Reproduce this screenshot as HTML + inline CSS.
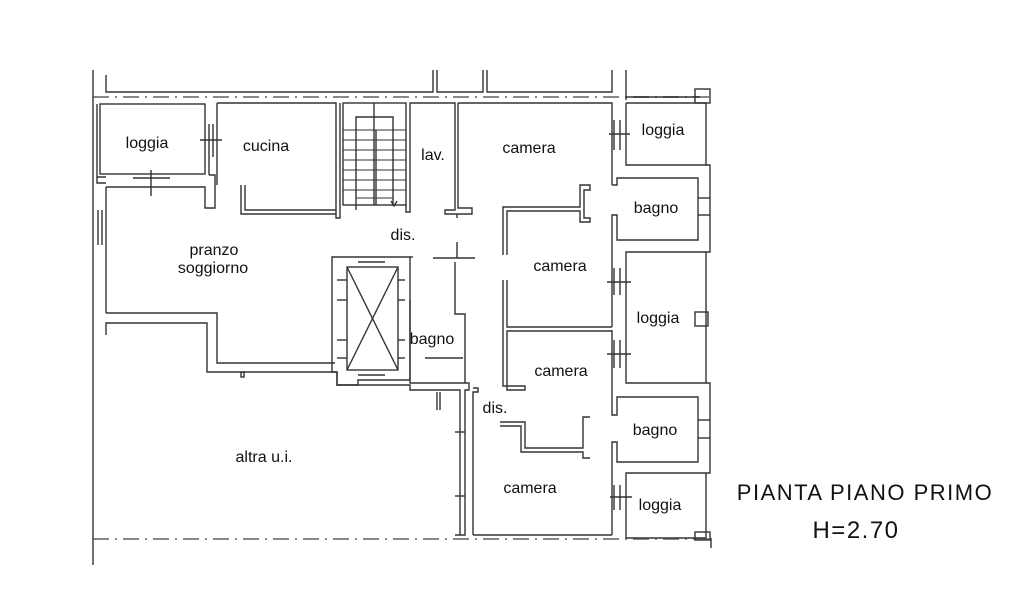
<!DOCTYPE html>
<html><head><meta charset="utf-8"><style>
html,body{margin:0;padding:0;background:#fff;}
svg{display:block;}
text{font-family:"Liberation Sans",sans-serif;fill:#111;}
</style></head><body>
<svg width="1024" height="590" viewBox="0 0 1024 590" xmlns="http://www.w3.org/2000/svg">
<g fill="none" stroke="#333" stroke-width="1.4">
<line x1="93" y1="97" x2="712" y2="97" stroke="#888" stroke-width="2" stroke-dasharray="16,6,2,6"/>
<line x1="93" y1="539" x2="712" y2="539" stroke="#888" stroke-width="2" stroke-dasharray="16,6,2,6"/>
<line x1="93" y1="70" x2="93" y2="565"/>
<polyline points="106,75 106,92 433,92 433,70"/>
<polyline points="437,70 437,92 483,92 483,70"/>
<polyline points="487,70 487,92 612,92 612,70"/>
<line x1="626" y1="70" x2="626" y2="100"/>
<polyline points="626,97 700,97"/>
<rect x="695" y="89" width="15" height="14"/>
<rect x="100" y="104" width="105" height="70"/>
<polyline points="97,104 97,177 106,177"/>
<line x1="209" y1="124" x2="209" y2="157"/><line x1="213" y1="124" x2="213" y2="157"/>
<line x1="200" y1="140" x2="222" y2="140"/>
<line x1="133" y1="178" x2="170" y2="178"/><line x1="133" y1="187" x2="170" y2="187"/>
<line x1="151" y1="170" x2="151" y2="196"/>
<polyline points="106,187 133,187"/><polyline points="170,187 205,187 205,208 215,208 215,175 209,175"/>
<polyline points="209,157 209,175"/>
<polyline points="97,177 97,183 106,183"/>
<line x1="106" y1="187" x2="106" y2="313"/>
<line x1="98" y1="210" x2="98" y2="245"/><line x1="102" y1="210" x2="102" y2="245"/>
<polyline points="106,313 217,313 217,363 335,363"/>
<polyline points="106,335 106,323 207,323 207,372 337,372 337,385 358,385"/>
<rect x="241" y="372" width="3" height="5"/>
<polyline points="217,103 336,103 336,218 340,218 340,103"/>
<polyline points="217,103 217,185"/>
<polyline points="245,185 245,210 336,210"/>
<polyline points="241,185 241,214 336,214"/>
<rect x="343" y="103" width="63" height="102"/>
<polyline points="356,210 356,117 393,117 393,205"/>
<line x1="374" y1="103" x2="374" y2="205"/><line x1="376" y1="130" x2="376" y2="205"/>
<g stroke-width="1">
<line x1="343" y1="130" x2="406" y2="130"/><line x1="343" y1="140" x2="406" y2="140"/>
<line x1="343" y1="150" x2="406" y2="150"/><line x1="343" y1="160" x2="406" y2="160"/>
<line x1="343" y1="170" x2="406" y2="170"/><line x1="343" y1="180" x2="406" y2="180"/>
<line x1="343" y1="190" x2="406" y2="190"/><line x1="356" y1="198" x2="393" y2="198"/>
</g>
<polyline points="391,201 394,206 397,201"/>
<polyline points="406,205 406,212 410,212 410,103 455,103 455,210 445,210 445,214 472,214 472,208 458,208 458,103"/>
<line x1="457" y1="214" x2="457" y2="218"/>
<polyline points="458,103 612,103 612,185"/>
<polyline points="626,103 626,165 706,165 706,103 626,103"/>
<polyline points="503,255 503,207 580,207 580,185 590,185 590,190 584,190 584,218 590,218 590,222 580,222 580,211 507,211 507,255"/>
<line x1="614" y1="120" x2="614" y2="150"/><line x1="620" y1="120" x2="620" y2="150"/>
<line x1="609" y1="134" x2="630" y2="134"/>
<polyline points="612,185 617,185 617,178 698,178 698,240 617,240 617,215 612,215 612,250"/>
<polyline points="706,165 710,165 710,252 626,252 626,383 706,383 706,252"/>
<line x1="698" y1="198" x2="710" y2="198"/><line x1="698" y1="215" x2="710" y2="215"/>
<rect x="695" y="312" width="13" height="14"/>
<polyline points="612,250 612,327"/>
<line x1="614" y1="268" x2="614" y2="295"/><line x1="620" y1="268" x2="620" y2="295"/>
<line x1="607" y1="282" x2="631" y2="282"/>
<line x1="614" y1="340" x2="614" y2="368"/><line x1="620" y1="340" x2="620" y2="368"/>
<line x1="607" y1="354" x2="631" y2="354"/>
<polyline points="612,330 612,415 617,415 617,397 698,397 698,462 617,462 617,442 612,442 612,535"/>
<polyline points="706,383 710,383 710,473 626,473 626,538 706,538 706,473"/>
<line x1="698" y1="420" x2="710" y2="420"/><line x1="698" y1="438" x2="710" y2="438"/>
<line x1="614" y1="485" x2="614" y2="510"/><line x1="620" y1="485" x2="620" y2="510"/>
<line x1="610" y1="497" x2="632" y2="497"/>
<rect x="695" y="532" width="15" height="8"/><line x1="711" y1="538" x2="711" y2="548"/>
<polyline points="507,280 507,327 612,327"/>
<polyline points="503,280 503,386 525,386 525,390 507,390 507,331 612,331"/>
<polyline points="500,422 525,422 525,448 583,448 583,417 590,417"/>
<polyline points="500,426 521,426 521,452 583,452 583,458 590,458"/>
<polyline points="473,535 612,535"/>
<polyline points="473,388 478,388 478,392 473,392 473,535"/>
<polygon points="332,257 410,257 410,380 358,380 358,385 337,385 337,372 332,372"/>
<rect x="347" y="267" width="51" height="103"/>
<line x1="347" y1="267" x2="398" y2="370"/><line x1="398" y1="267" x2="347" y2="370"/>
<line x1="358" y1="262" x2="385" y2="262"/><line x1="358" y1="375" x2="385" y2="375"/>
<line x1="337" y1="280" x2="347" y2="280"/><line x1="337" y1="300" x2="347" y2="300"/>
<line x1="337" y1="340" x2="347" y2="340"/><line x1="337" y1="358" x2="347" y2="358"/>
<line x1="398" y1="280" x2="405" y2="280"/><line x1="398" y1="300" x2="405" y2="300"/>
<line x1="398" y1="340" x2="405" y2="340"/><line x1="398" y1="358" x2="405" y2="358"/>
<polyline points="410,257 413,257"/>
<polyline points="433,258 475,258"/><line x1="457" y1="242" x2="457" y2="258"/>
<polyline points="455,262 455,314 465,314 465,383 410,383 410,300"/>
<polyline points="425,358 463,358"/>
<polyline points="358,385 410,385 410,390 460,390 460,535"/>
<polyline points="465,383 469,383 469,390 465,390 465,535 455,535"/>
<line x1="437" y1="392" x2="437" y2="410"/><line x1="440" y1="392" x2="440" y2="410"/>
<line x1="455" y1="432" x2="465" y2="432"/><line x1="455" y1="496" x2="465" y2="496"/>
</g>
<g font-size="16">
<text x="147" y="148" text-anchor="middle">loggia</text>
<text x="266" y="151" text-anchor="middle">cucina</text>
<text x="433" y="160" text-anchor="middle">lav.</text>
<text x="529" y="153" text-anchor="middle">camera</text>
<text x="663" y="135" text-anchor="middle">loggia</text>
<text x="656" y="213" text-anchor="middle">bagno</text>
<text x="403" y="240" text-anchor="middle">dis.</text>
<text x="214" y="255" text-anchor="middle">pranzo</text>
<text x="213" y="273" text-anchor="middle">soggiorno</text>
<text x="560" y="271" text-anchor="middle">camera</text>
<text x="658" y="323" text-anchor="middle">loggia</text>
<text x="432" y="344" text-anchor="middle">bagno</text>
<text x="561" y="376" text-anchor="middle">camera</text>
<text x="495" y="413" text-anchor="middle">dis.</text>
<text x="655" y="435" text-anchor="middle">bagno</text>
<text x="264" y="462" text-anchor="middle">altra u.i.</text>
<text x="530" y="493" text-anchor="middle">camera</text>
<text x="660" y="510" text-anchor="middle">loggia</text>
</g>
<text x="865" y="500" text-anchor="middle" font-size="22" letter-spacing="1.5">PIANTA PIANO PRIMO</text>
<text x="856" y="538" text-anchor="middle" font-size="24" letter-spacing="1.5">H=2.70</text>
</svg>
</body></html>
